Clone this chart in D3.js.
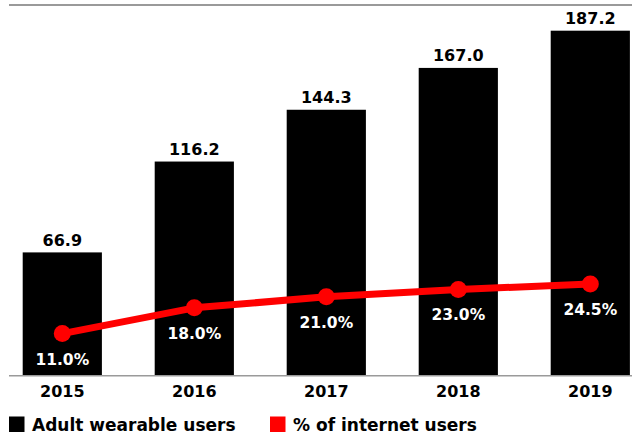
<!DOCTYPE html>
<html>
<head>
<meta charset="utf-8">
<script src="https://cdn.jsdelivr.net/npm/d3@7"></script>
<style>
  html, body { margin: 0; padding: 0; background: #fff; }
  svg { display: block; }
  text { font-family: "DejaVu Sans", Verdana, sans-serif; font-weight: bold; }
</style>
</head>
<body>
<svg id="chart" width="632" height="436"></svg>
<script>
const years = ["2015", "2016", "2017", "2018", "2019"];
const wearableUsers = [66.9, 116.2, 144.3, 167.0, 187.2];
const pctInternetUsers = [11.0, 18.0, 21.0, 23.0, 24.5];
const legendLabels = ["Adult wearable users", "% of internet users"];
const colors = ["#000000", "#ff0000"];

const svg = d3.select("#chart");
const W = 632, H = 436;
const baseY = 375.7;

const x = d3.scaleBand().domain(years).range([-3.7, 656.3]).paddingInner(0.4).paddingOuter(0.2);
const y = d3.scaleLinear().domain([0, 200]).range([baseY, 7.1]);
const y2 = d3.scaleLinear().domain([0, 100]).range([374, 6.5]);

// top rule
svg.append("line").attr("x1", 9).attr("x2", W).attr("y1", 5).attr("y2", 5)
  .attr("stroke", "#9a9a9a").attr("stroke-width", 2.2);

// bars
svg.append("g").selectAll("rect").data(years).join("rect")
  .attr("x", d => x(d))
  .attr("y", (d, i) => y(wearableUsers[i]))
  .attr("width", x.bandwidth())
  .attr("height", (d, i) => baseY - y(wearableUsers[i]))
  .attr("fill", colors[0]);

// bar value labels
svg.append("g").selectAll("text").data(years).join("text")
  .attr("x", d => x(d) + x.bandwidth() / 2)
  .attr("y", (d, i) => y(wearableUsers[i]) - 6.5)
  .attr("text-anchor", "middle")
  .attr("font-size", 16)
  .attr("fill", "#000")
  .text((d, i) => wearableUsers[i].toFixed(1));

// baseline axis
const xAxis = d3.axisBottom(x).tickSize(0).tickPadding(0);
const gx = svg.append("g").attr("transform", `translate(0,${baseY})`).call(xAxis);
gx.select(".domain").remove();
gx.append("line").attr("x1", 9).attr("x2", W).attr("y1", 0).attr("y2", 0)
  .attr("stroke", "#9a9a9a").attr("stroke-width", 1.5);
gx.selectAll(".tick text")
  .attr("dy", null)
  .attr("y", 21.6)
  .attr("font-size", 16)
  .attr("font-family", "'DejaVu Sans', Verdana, sans-serif")
  .attr("font-weight", "bold")
  .attr("fill", "#000");

// line series
const cx = d => x(d) + x.bandwidth() / 2;
const line = d3.line().x((d, i) => cx(years[i])).y(d => y2(d));
svg.append("path").datum(pctInternetUsers)
  .attr("d", line)
  .attr("fill", "none")
  .attr("stroke", colors[1])
  .attr("stroke-width", 7)
  .attr("stroke-linejoin", "round");
svg.append("g").selectAll("circle").data(pctInternetUsers).join("circle")
  .attr("cx", (d, i) => cx(years[i]))
  .attr("cy", d => y2(d))
  .attr("r", 8.5)
  .attr("fill", colors[1]);
svg.append("g").selectAll("text").data(pctInternetUsers).join("text")
  .attr("x", (d, i) => cx(years[i]))
  .attr("y", d => y2(d) + 31)
  .attr("text-anchor", "middle")
  .attr("font-size", 15.5)
  .attr("fill", "#fff")
  .text(d => d.toFixed(1) + "%");

// legend
const legendX = [9, 270];
const lg = svg.append("g").selectAll("g").data(legendLabels).join("g")
  .attr("transform", (d, i) => `translate(${legendX[i]},416.5)`);
lg.append("rect").attr("width", 15.5).attr("height", 15.5).attr("fill", (d, i) => colors[i]);
lg.append("text").attr("x", 23).attr("y", 14.3)
  .attr("font-size", 17).attr("fill", "#000").text(d => d);
</script>
</body>
</html>
